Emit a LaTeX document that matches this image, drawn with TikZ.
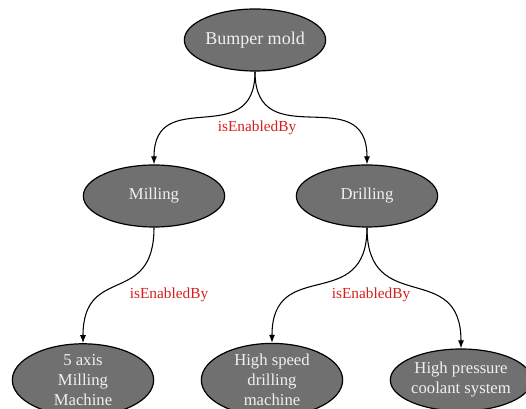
\documentclass[tikz,border=0pt]{standalone}
\usepackage{fontspec}
\setmainfont{Liberation Serif}
\usetikzlibrary{shapes.geometric,arrows.meta}
\definecolor{nodegray}{RGB}{112,112,112}
\definecolor{relred}{RGB}{215,30,30}

\begin{document}
\begin{tikzpicture}[x=0.75pt,y=-0.75pt,
    task/.style={ellipse,draw=black,line width=0.9pt,fill=nodegray,
      text=white!94!black,inner sep=0pt,minimum width=106pt,minimum height=46.5pt,
      align=center,font=\fontsize{12.5}{15}\selectfont},
    rel/.style={text=relred,font=\fontsize{11.5}{13}\selectfont},
    link/.style={line width=0.8pt,-{Latex[length=6pt,width=4.5pt]},
      out=-90,in=90,looseness=1.5}]
\useasboundingbox (0,0) rectangle (526,409);
\node[task,font=\fontsize{13.5}{16}\selectfont] (bumper) at (255,40) {Bumper mold};
\node[task] (milling) at (154,196) {Milling};
\node[task] (drilling) at (367,196) {Drilling};
\node[task] (axis) at (83,380) {5 axis\\Milling\\Machine};
\node[task] (speed) at (272,380) {High speed\\drilling\\machine};
\node[task] (coolant) at (461,380) {High pressure\\coolant system};
\draw[link] (bumper.south) to (milling.north);
\draw[link] (bumper.south) to (drilling.north);
\draw[link] (milling.south) to (axis.north);
\draw[link] (drilling.south) to (speed.north);
\draw[link] (drilling.south) to (coolant.north);
\node[rel] (rtop) at (257,128) {isEnabledBy};
\node[rel] (rleft) at (169,295) {isEnabledBy};
\node[rel] (rright) at (371,295) {isEnabledBy};
\end{tikzpicture}
\end{document}
